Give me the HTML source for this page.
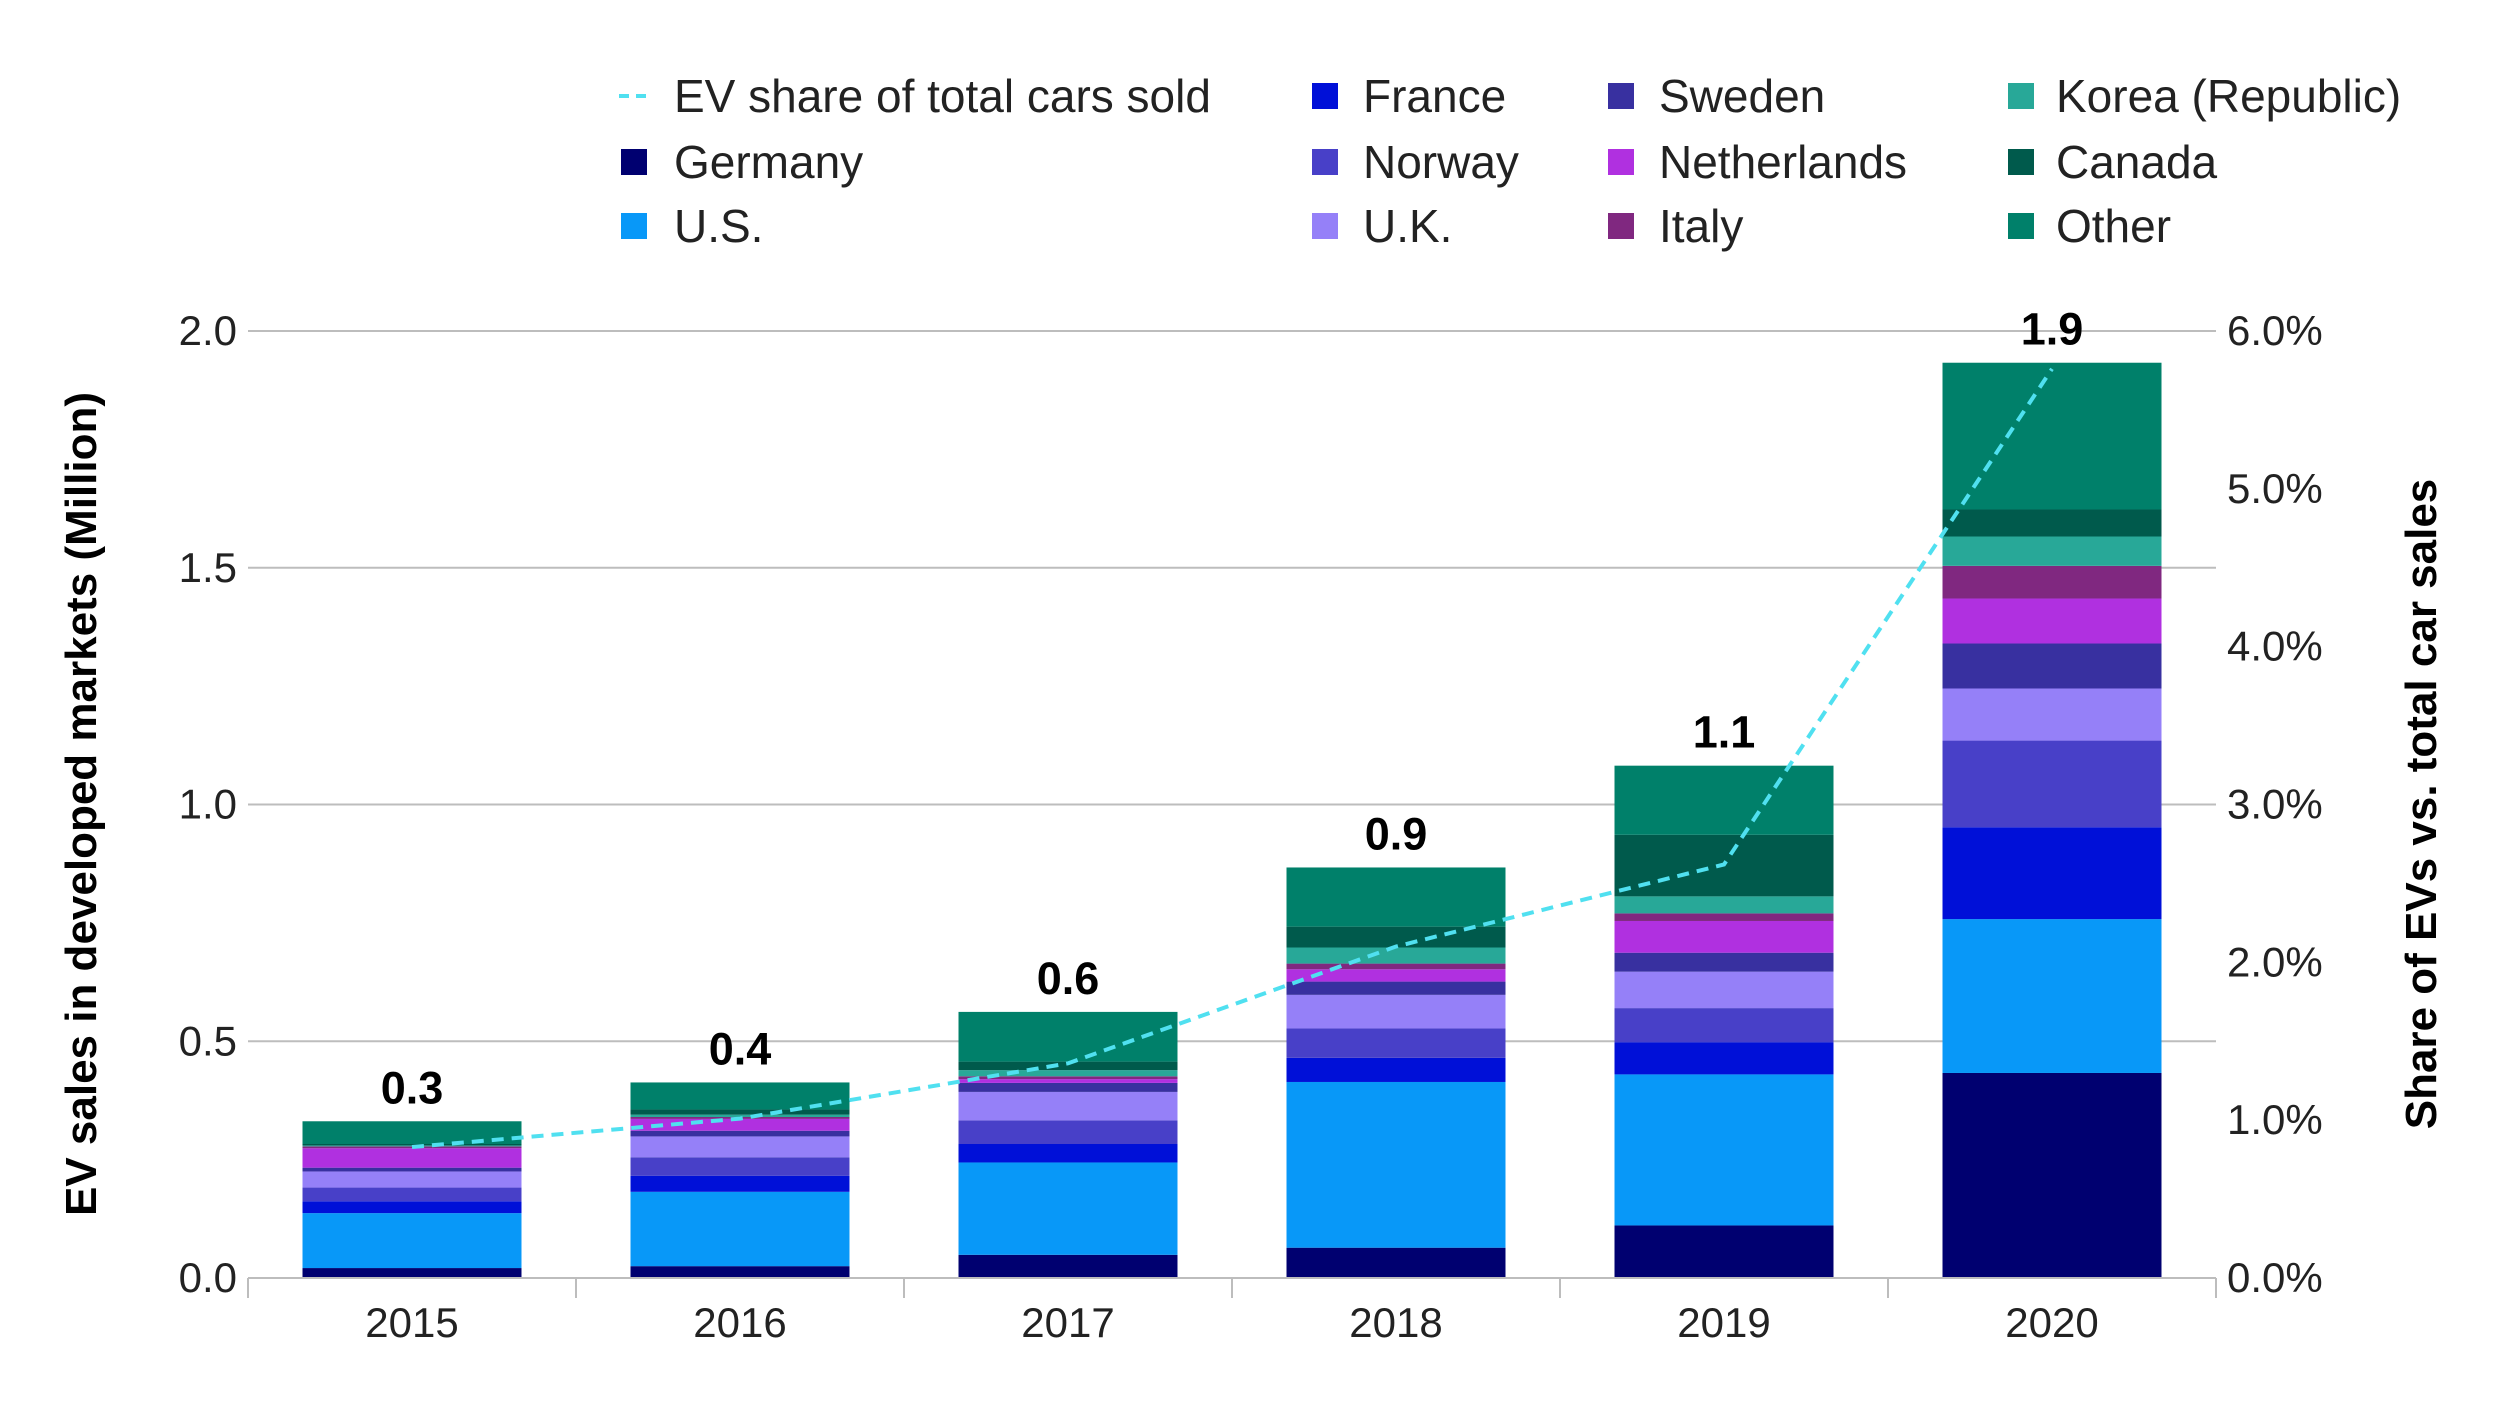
<!DOCTYPE html>
<html><head><meta charset="utf-8"><style>
html,body{margin:0;padding:0;background:#fff;}
svg{display:block;font-family:"Liberation Sans",Arial,sans-serif;}
</style></head><body>
<svg id="chart" width="2496" height="1404" viewBox="0 0 2496 1404" xmlns="http://www.w3.org/2000/svg">
<g id="grid"></g>
<g id="bars"></g>
<g id="axes"></g>
<g id="line"></g>
<g id="labels"></g>
<g id="legend"></g>
<text transform="translate(96,804) rotate(-90)" text-anchor="middle" font-size="44" font-weight="bold" fill="#000">EV sales in developed markets (Million)</text>
<text transform="translate(2436,804) rotate(-90)" text-anchor="middle" font-size="44" font-weight="bold" fill="#000">Share of EVs vs. total car sales</text>
</svg>
<script>
const categories = ["2015","2016","2017","2018","2019","2020"];
const seriesNames = ["Germany","U.S.","France","Norway","U.K.","Sweden","Netherlands","Italy","Korea (Republic)","Canada","Other"];
const germany = [0.021,0.025,0.049,0.064,0.111,0.433];
const us = [0.116,0.157,0.195,0.350,0.319,0.325];
const france = [0.025,0.034,0.039,0.051,0.068,0.194];
const norway = [0.029,0.039,0.050,0.062,0.072,0.183];
const uk = [0.034,0.044,0.060,0.071,0.077,0.110];
const sweden = [0.008,0.012,0.019,0.028,0.040,0.095];
const netherlands = [0.041,0.025,0.008,0.026,0.067,0.095];
const italy = [0.004,0.004,0.006,0.012,0.016,0.069];
const korea = [0.002,0.005,0.013,0.034,0.036,0.062];
const canada = [0.003,0.011,0.018,0.044,0.130,0.057];
const other = [0.048,0.057,0.105,0.125,0.146,0.310];
const shareValues = [0.83,1.01,1.36,2.10,2.62,5.76];
const totalLabels = ["0.3","0.4","0.6","0.9","1.1","1.9"];
const leftTicks = [0,0.5,1.0,1.5,2.0];
const leftTickLabels = ["0.0","0.5","1.0","1.5","2.0"];
const rightTicks = [0,1,2,3,4,5,6];
const rightTickLabels = ["0.0%","1.0%","2.0%","3.0%","4.0%","5.0%","6.0%"];

const colors = ["#000070","#0898f8","#0010d8","#4840c8","#9580f8","#3830a0","#b030e0","#802880","#28a898","#005a4c","#00806a"];
const seriesData = [germany,us,france,norway,uk,sweden,netherlands,italy,korea,canada,other];
const NS="http://www.w3.org/2000/svg";
const X0=248,X1=2216,Y0=1278,Ytop=331;
const catW=(X1-X0)/categories.length, barW=219;
const y=v=>Y0-(v/2.0)*(Y0-Ytop);
const y2=v=>Y0-(v/6)*(Y0-Ytop);
const xc=i=>X0+catW*(i+0.5);
function mk(tag,attrs,parent){const e=document.createElementNS(NS,tag);for(const k in attrs)e.setAttribute(k,attrs[k]);parent.appendChild(e);return e;}
const grid=document.getElementById('grid'),bars=document.getElementById('bars'),axes=document.getElementById('axes'),line=document.getElementById('line'),labels=document.getElementById('labels'),legend=document.getElementById('legend');
leftTicks.forEach((t,i)=>{
  if(t>0){const g=mk('line',{x1:X0,x2:X1,y1:y(t),y2:y(t),stroke:"#bdbdbd","stroke-width":2},grid);
  
  }
  const tx=mk('text',{x:237,y:y(t)+14,"text-anchor":"end","font-size":42,fill:"#222"},axes);
  tx.textContent=leftTickLabels[i];
  
  
});
rightTicks.forEach((t,i)=>{
  const tx=mk('text',{x:2227,y:y2(t)+14,"font-size":42,fill:"#222"},axes);
  tx.textContent=rightTickLabels[i];
  
  
});
categories.forEach((c,i)=>{
  let acc=0;
  seriesData.forEach((s,k)=>{
    const r=mk('rect',{x:xc(i)-barW/2,y:y(acc+s[i]),width:barW,height:y(acc)-y(acc+s[i]),fill:colors[k]},bars);
    
    
    acc+=s[i];
  });
  const lb=mk('text',{x:xc(i),y:y(acc)-18,"text-anchor":"middle","font-size":45,"font-weight":"bold",fill:"#000"},labels);
  lb.textContent=totalLabels[i];
  
  
  const xl=mk('text',{x:xc(i),y:1337,"text-anchor":"middle","font-size":42,fill:"#222"},axes);
  xl.textContent=c;
  
  
});
for(let i=0;i<=categories.length;i++){
  const t=mk('line',{x1:X0+catW*i,x2:X0+catW*i,y1:Y0,y2:Y0+20,stroke:"#bdbdbd","stroke-width":2},axes);
  
  
}
const ax=mk('line',{x1:X0,x2:X1,y1:Y0,y2:Y0,stroke:"#bdbdbd","stroke-width":2},axes);


const pts=shareValues.map((v,i)=>xc(i)+','+y2(v)).join(' ');
const pl=mk('polyline',{points:pts,fill:"none",stroke:"#50e0f0","stroke-width":4,"stroke-dasharray":"12,8"},line);


// legend
const legItems=[["EV share of total cars sold",null,0,0],["Germany",0,0,1],["U.S.",1,0,2],["France",2,1,0],["Norway",3,1,1],["U.K.",4,1,2],["Sweden",5,2,0],["Netherlands",6,2,1],["Italy",7,2,2],["Korea (Republic)",8,3,0],["Canada",9,3,1],["Other",10,3,2]];
const colX=[621,1312,1608,2008],textX=[674,1363,1659,2056],rowY=[96,162,226];
legItems.forEach(it=>{
  const [name,ci,col,row]=it;
  let m;
  if(ci===null){m=mk('line',{x1:colX[col]-2,x2:colX[col]+28,y1:rowY[row],y2:rowY[row],stroke:"#50e0f0","stroke-width":4,"stroke-dasharray":"10,7"},legend);}
  else{m=mk('rect',{x:colX[col],y:rowY[row]-13,width:26,height:26,fill:colors[ci]},legend);}
  
  
  const t=mk('text',{x:textX[col],y:rowY[row]+16,"font-size":46,fill:"#222"},legend);
  t.textContent=name;
  
  
});
</script>
</body></html>
